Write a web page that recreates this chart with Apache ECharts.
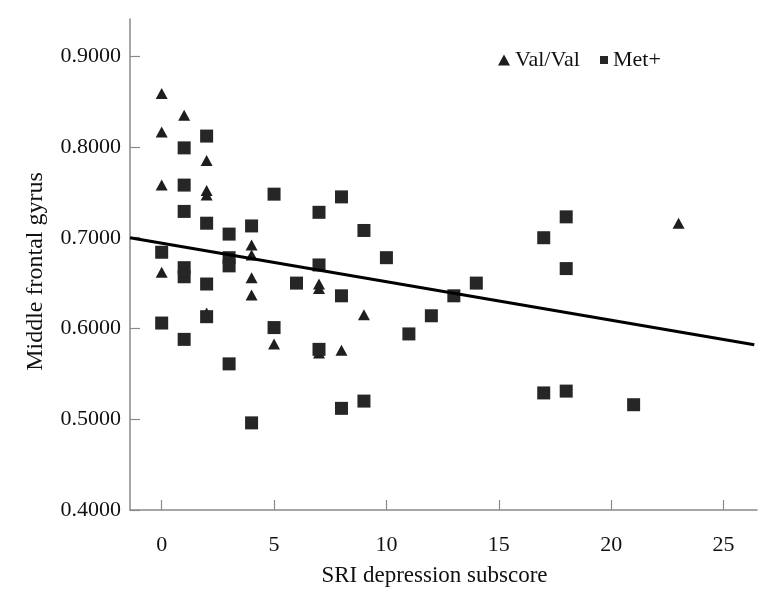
<!DOCTYPE html>
<html>
<head>
<meta charset="utf-8">
<script src="https://cdn.jsdelivr.net/npm/echarts@6/dist/echarts.min.js"></script>
<style>html,body{margin:0;padding:0;background:#fff}#c{width:774px;height:604px}</style>
</head>
<body>
<div id="c"></div>
<script>
const xTicks = [0, 5, 10, 15, 20, 25];
const yTicks = [0.4, 0.5, 0.6, 0.7, 0.8, 0.9];

const valValX = [0, 0, 0, 0, 1, 2, 2, 2, 2, 4, 4, 4, 4, 5, 7, 7, 7, 8, 9, 23];
const valValY = [0.859, 0.8165, 0.758, 0.662, 0.835, 0.785, 0.752, 0.747, 0.617,
  0.692, 0.681, 0.656, 0.637, 0.583, 0.649, 0.644, 0.573, 0.576, 0.615, 0.716];

const metX = [0, 0, 1, 1, 1, 1, 1, 1, 2, 2, 2, 2, 3, 3, 3, 3, 4, 4, 5, 5, 6,
  7, 7, 7, 8, 8, 8, 9, 9, 10, 11, 12, 13, 14, 17, 17, 18, 18, 18, 21];
const metY = [0.684, 0.606, 0.799, 0.758, 0.729, 0.667, 0.657, 0.588,
  0.812, 0.716, 0.649, 0.613, 0.704, 0.678, 0.669, 0.561, 0.713, 0.496,
  0.748, 0.601, 0.650, 0.728, 0.670, 0.577, 0.745, 0.636, 0.512,
  0.708, 0.520, 0.678, 0.594, 0.614, 0.636, 0.650, 0.700, 0.529,
  0.723, 0.666, 0.531, 0.516];

const trendX = [-1.41, 26.37];
const trendY = [0.700, 0.582];

const pair = (xs, ys) => xs.map((x, i) => [x, ys[i]]);
const FONT = 'Liberation Serif';
const AXC = '#8a8a8a';

const chart = echarts.init(document.getElementById('c'));
chart.setOption({
  animation: false,
  backgroundColor: '#fff',
  grid: { left: 130, right: 17, top: 19, bottom: 94 },
  legend: [
    { data: [{ name: 'Val/Val', icon: 'triangle' }], left: 498, top: 49, padding: 0,
      itemWidth: 12, itemHeight: 11, itemGap: 0,
      itemStyle: { opacity: 1 },
      textStyle: { fontFamily: FONT, fontSize: 22, color: '#111', lineHeight: 22 } },
    { data: [{ name: 'Met+', icon: 'rect' }], left: 600, top: 49, padding: 0,
      itemWidth: 8, itemHeight: 8, itemGap: 0,
      itemStyle: { opacity: 1 },
      textStyle: { fontFamily: FONT, fontSize: 22, color: '#111', lineHeight: 22 } }
  ],
  xAxis: {
    type: 'value', min: -1.41, max: 26.49,
    name: 'SRI depression subscore', nameLocation: 'middle', nameGap: 54,
    nameTextStyle: { fontFamily: FONT, fontSize: 23, color: '#111', padding: [0, 18, 0, 0] },
    axisLine: { onZero: false, lineStyle: { color: AXC, width: 1.5 } },
    axisTick: { inside: true, length: 10, lineStyle: { color: AXC, width: 1.2 }, customValues: xTicks },
    axisLabel: { fontFamily: FONT, fontSize: 22, color: '#111', margin: 24, customValues: xTicks },
    splitLine: { show: false }
  },
  yAxis: {
    type: 'value', min: 0.4, max: 0.941,
    name: 'Middle frontal gyrus', nameLocation: 'middle', nameGap: 82,
    nameTextStyle: { fontFamily: FONT, fontSize: 24, color: '#111', padding: [0, 14, 0, 0] },
    axisLine: { show: true, onZero: false, lineStyle: { color: AXC, width: 1.5 } },
    axisTick: { show: true, inside: true, length: 10, lineStyle: { color: AXC, width: 1.2 }, customValues: yTicks },
    axisLabel: { fontFamily: FONT, fontSize: 22, color: '#111', margin: 9,
      customValues: yTicks, formatter: v => v.toFixed(4) },
    splitLine: { show: false }
  },
  series: [
    { name: 'Val/Val', type: 'scatter', symbol: 'triangle', symbolSize: [12, 11],
      itemStyle: { color: '#1e1e1e', opacity: 1 }, data: pair(valValX, valValY), z: 2 },
    { name: 'Met+', type: 'scatter', symbol: 'rect', symbolSize: 13,
      itemStyle: { color: '#262626', opacity: 1 }, data: pair(metX, metY), z: 3 },
    { name: 'trend', type: 'line', data: pair(trendX, trendY), symbol: 'none',
      lineStyle: { color: '#000', width: 3 }, z: 4, silent: true }
  ]
});
</script>
</body>
</html>
